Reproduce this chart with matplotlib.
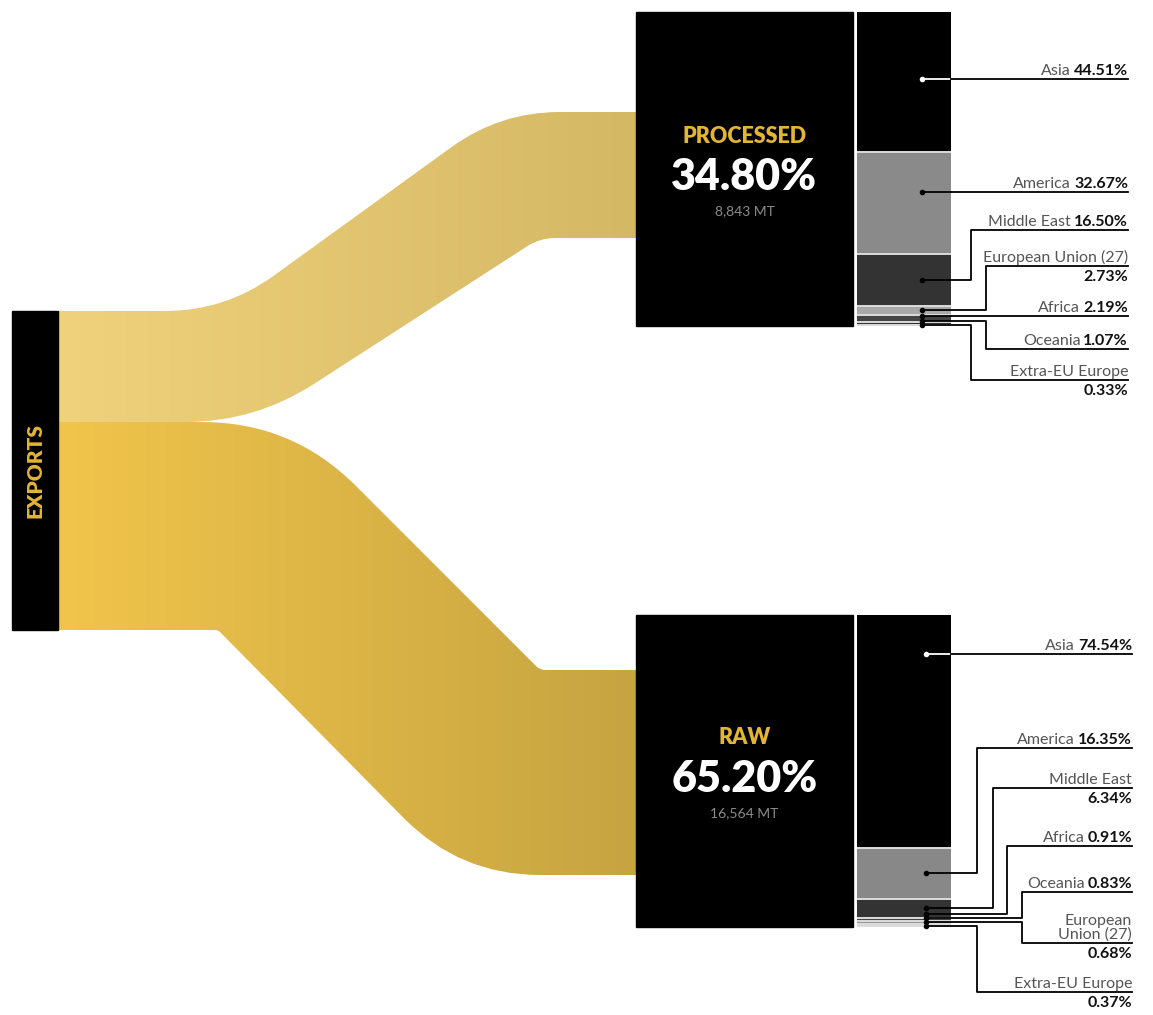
import numpy as np
import matplotlib.pyplot as plt
from matplotlib.path import Path
from matplotlib.patches import PathPatch, Rectangle
from matplotlib.colors import to_rgb

plt.rcParams['font.family'] = ['Lato', 'DejaVu Sans']

# --- data ---
streams = ["PROCESSED", "RAW"]
stream_share = [34.80, 65.20]
stream_tonnes = ["8,843 MT", "16,564 MT"]

regions_processed = ["Asia", "America", "Middle East", "European Union (27)",
                     "Africa", "Oceania", "Extra-EU Europe"]
share_processed = [44.51, 32.67, 16.50, 2.73, 2.19, 1.07, 0.33]

regions_raw = ["Asia", "America", "Middle East", "Africa", "Oceania",
               "European\nUnion (27)", "Extra-EU Europe"]
share_raw = [74.54, 16.35, 6.34, 0.91, 0.83, 0.68, 0.37]

# --- layout (pixels, y down) ---
W, H = 1153, 1015
fig = plt.figure(figsize=(W / 100, H / 100), dpi=100)
ax = fig.add_axes([0, 0, 1, 1])
ax.axis("off")

export_box = (12, 58, 311, 630)       # x0, x1, y0, y1
box_x = (636, 853)
bar_x = (857, 951)
boxes_y = [(12, 326), (615, 927)]
flow_right = [(112, 238), (670, 875)]
# corners of the flow edges: (x, radius)
flow_top_corners = [[(225, 60), (500, 60)], [(292, 90), (540, 5)]]
flow_bot_corners = [[(255, 70), (540, 15)], [(218, 3), (460, 80)]]
flow_colors = [("#F0D27C", "#D5B864"), ("#F1C54B", "#C6A441")]

seg_colors = [
    ["#000000", "#8a8a8a", "#333333", "#a8a8a8", "#444444", "#333333", "#e8e8e8"],
    ["#000000", "#888888", "#333333", "#444444", "#999999", "#cccccc", "#e8e8e8"],
]
label_y = [[79, 192, 230, 266, 316, 349, 380],
           [654, 748, 788, 846, 892, 943, 992]]
label_kind = [["inline", "inline", "inline", "stack", "inline", "inline", "stack"],
              ["inline", "inline", "stack", "inline", "inline", "stack", "stack"]]
elbow_x = [[None, None, 971, 986, None, 986, 971],
           [None, 977, 993, 1007, 1022, 1022, 977]]
dot_x = [922, 926]
label_right = [1128, 1132]

GOLD = "#E3B535"
LABEL_SIZE = 11.5


def rounded_edge(points, radii):
    verts = [points[0]]
    codes = [Path.MOVETO]
    for i in range(1, len(points) - 1):
        p0, p1, p2 = (np.array(p, float) for p in points[i - 1:i + 2])
        r = radii[i - 1]
        d1 = (p1 - p0) / np.linalg.norm(p1 - p0)
        d2 = (p2 - p1) / np.linalg.norm(p2 - p1)
        verts += [tuple(p1 - d1 * r), tuple(p1), tuple(p1 + d2 * r)]
        codes += [Path.LINETO, Path.CURVE3, Path.CURVE3]
    verts.append(points[-1])
    codes.append(Path.LINETO)
    return verts, codes


# exports bar
ex0, ex1, ey0, ey1 = export_box
ax.add_patch(Rectangle((ex0, ey0), ex1 - ex0, ey1 - ey0, color="black", zorder=3))
ax.text((ex0 + ex1) / 2, (ey0 + ey1) / 2, "EXPORTS", rotation=90, color=GOLD,
        fontsize=15, fontweight="heavy", ha="center", va="center", zorder=4)

# flows
left_edges = np.concatenate([[0], np.cumsum(stream_share)]) / 100 * (ey1 - ey0) + ey0
for k in range(len(streams)):
    yl0, yl1 = left_edges[k], left_edges[k + 1]
    yr0, yr1 = flow_right[k]
    top_pts = [(ex1, yl0)] + [(x, yl0) if j == 0 else (x, yr0)
                              for j, (x, _) in enumerate(flow_top_corners[k])] + [(box_x[0], yr0)]
    top_r = [r for _, r in flow_top_corners[k]]
    bot_pts = [(ex1, yl1)] + [(x, yl1) if j == 0 else (x, yr1)
                              for j, (x, _) in enumerate(flow_bot_corners[k])] + [(box_x[0], yr1)]
    bot_r = [r for _, r in flow_bot_corners[k]]
    tv, tc = rounded_edge(top_pts, top_r)
    bv, bc = rounded_edge(bot_pts[::-1], bot_r[::-1])
    bc[0] = Path.LINETO
    verts = tv + bv + [tv[0]]
    codes = tc + bc + [Path.CLOSEPOLY]
    patch = PathPatch(Path(verts, codes), facecolor="none", edgecolor="none")
    ax.add_patch(patch)
    t = np.linspace(0, 1, 256)
    c0, c1 = (np.array(to_rgb(c)) for c in flow_colors[k])
    grad = np.outer(1 - t, c0) + np.outer(t, c1)
    im = ax.imshow(grad[np.newaxis, :, :], extent=[ex1, box_x[0], 1000, 0],
                   aspect="auto", zorder=1, interpolation="bilinear")
    im.set_clip_path(patch)

# boxes, stacked bars and labels
all_regions = [regions_processed, regions_raw]
all_shares = [share_processed, share_raw]
renderer = fig.canvas.get_renderer()

for k in range(len(streams)):
    by0, by1 = boxes_y[k]
    cy = (by0 + by1) / 2
    ax.add_patch(Rectangle((box_x[0], by0), box_x[1] - box_x[0], by1 - by0,
                           color="black", zorder=3))
    cx = (box_x[0] + box_x[1]) / 2
    ax.text(cx, cy - 33, streams[k], color=GOLD, fontsize=15.5, fontweight="heavy",
            ha="center", va="center", zorder=4)
    ax.text(cx, cy + 8, f"{stream_share[k]:.2f}%", color="white", fontsize=31,
            fontweight="heavy", ha="center", va="center", zorder=4)
    ax.text(cx, cy + 42, stream_tonnes[k], color="#8c8c8c", fontsize=10,
            ha="center", va="center", zorder=4)

    shares = np.array(all_shares[k])
    edges = np.concatenate([[0], np.cumsum(shares)]) / shares.sum() * (by1 - by0) + by0
    for i in range(len(shares)):
        ax.add_patch(Rectangle((bar_x[0], edges[i]), bar_x[1] - bar_x[0],
                               edges[i + 1] - edges[i], facecolor=seg_colors[k][i],
                               edgecolor="none", zorder=3))
    for e in edges[1:-1]:
        ax.plot(bar_x, [e, e], color="#dcdcdc", lw=1.4, zorder=4,
                solid_capstyle="butt")

    # dot positions: segment centres, pushed apart from the bottom up
    centers = (edges[:-1] + edges[1:]) / 2
    centers[-1] = min(centers[-1], by1 - 1)
    for i in range(len(centers) - 2, -1, -1):
        centers[i] = min(centers[i], centers[i + 1] - 4)

    xr = label_right[k]
    dx = dot_x[k]
    for i, name in enumerate(all_regions[k]):
        ly = label_y[k][i]
        ex = elbow_x[k][i]
        inside = "white" if seg_colors[k][i] == "#000000" else "black"
        if ex is None:
            ax.plot([dx, bar_x[1]], [ly, ly], color=inside, lw=1.3, zorder=5)
            ax.plot([bar_x[1], xr], [ly, ly], color="black", lw=1.3, zorder=5)
            ax.plot(dx, ly, "o", ms=3, color=inside, zorder=6)
        else:
            dy = centers[i]
            ax.plot([dx, ex, ex, xr], [dy, dy, ly, ly], color="black", lw=1.3, zorder=5)
            ax.plot(dx, dy, "o", ms=3, color="black", zorder=6)
        value = f"{all_shares[k][i]:.2f}%"
        if label_kind[k][i] == "inline":
            tv = ax.text(xr, ly - 1, value, fontsize=LABEL_SIZE, fontweight="bold",
                         color="#111111", ha="right", va="bottom", zorder=6)
            w = tv.get_window_extent(renderer).width
            ax.text(xr - w - 3, ly - 1, name, fontsize=LABEL_SIZE, color="#555555",
                    ha="right", va="bottom", zorder=6)
        else:
            ax.text(xr, ly - 1, name, fontsize=LABEL_SIZE, color="#555555",
                    ha="right", va="bottom", linespacing=1.0, zorder=6)
            ax.text(xr, ly + 4, value, fontsize=LABEL_SIZE, fontweight="bold",
                    color="#111111", ha="right", va="top", zorder=6)

ax.set_xlim(0, W)
ax.set_ylim(H, 0)
fig.savefig("out.png", dpi=100)
